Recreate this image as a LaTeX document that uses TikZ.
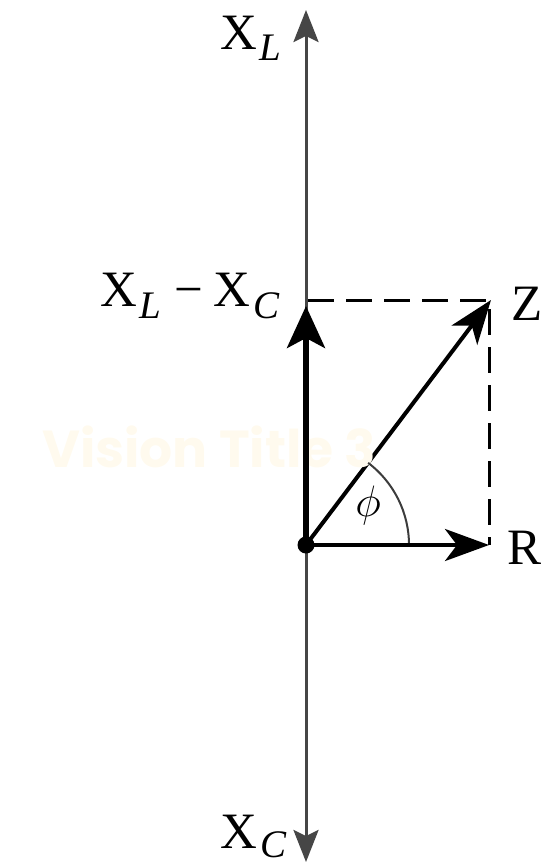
\RequirePackage{fix-cm}
\documentclass[tikz,border=0pt]{standalone}
\usepackage{fontspec}
\newfontfamily\wmfont{Poppins}
\newfontfamily\labfont{Liberation Serif}
\usetikzlibrary{arrows.meta}
\definecolor{axisgray}{RGB}{70,70,70}
\definecolor{arcgray}{RGB}{60,60,60}
\definecolor{wmcol}{RGB}{255,250,238}
\newcommand{\sbs}[2][12pt]{\raisebox{-#1}[\height][0pt]{\fontsize{39}{39}\selectfont\itshape #2}}
\tikzset{
  axis/.style={axisgray, line width=3pt, -{Stealth[length=32pt,width=25pt,inset=6pt]}},
  vec/.style={black, line width=4pt, -{Stealth[length=44pt,width=32pt,inset=12pt]}},
  thickvec/.style={black, line width=5.5pt, -{Stealth[length=42pt,width=38pt,inset=10pt]}},
  guide/.style={black, line width=3pt, dash pattern=on 26pt off 12pt},
  lab/.style={inner sep=0pt, font=\labfont\fontsize{51}{51}\selectfont},
}
\begin{document}
\begin{tikzpicture}[x=1pt,y=-1pt]
\useasboundingbox (0,0) rectangle (549,867);
\coordinate (O) at (306,545);
\coordinate (T) at (306,10);
\coordinate (B) at (306,862);
\coordinate (A) at (306,306);
\coordinate (Zp) at (491,300);
\coordinate (Rp) at (489,545);
\coordinate (Dr) at (489,300);
\coordinate (Dl) at (308,300);
% axis
\draw[axis] (O) -- (T);
\draw[axis] (O) -- (B);
% dashed guides
\draw[guide] (Dl) -- (Dr) -- (Rp);
% Z vector
\draw[vec] (O) -- (Zp);
% watermark
\node[text=wmcol, anchor=base west, inner sep=0pt, font=\wmfont\bfseries\fontsize{52}{52}\selectfont] (wm) at (42,467) {Vision Title 3};
% angle arc
\draw[arcgray, line width=2pt] (409,545) arc[start angle=0, end angle=-52.9, radius=103];
% R vector
\draw[vec] (O) -- (Rp);
% X_L - X_C vector
\draw[thickvec] (O) -- (A);
\fill[black] (O) circle (8.5pt);
% labels
\node[lab, anchor=base west] (xl) at (220,49) {X\kern2pt\sbs{L}};
\node[lab, anchor=base west] (xlxc) at (100,306) {X\kern2pt\sbs{L}\kern14pt−\kern10pt X\kern3pt\sbs{C}};
\node[lab, anchor=base west] (xc) at (220,848) {X\kern3pt\sbs[9pt]{C}};
\node[lab, anchor=base west] (z) at (511,320) {Z};
\node[lab, anchor=base west] (r) at (507,564) {R};
\node[inner sep=0pt, font=\fontsize{44}{44}\selectfont] (phi) at (368,505) {$\phi$};
\end{tikzpicture}
\end{document}
